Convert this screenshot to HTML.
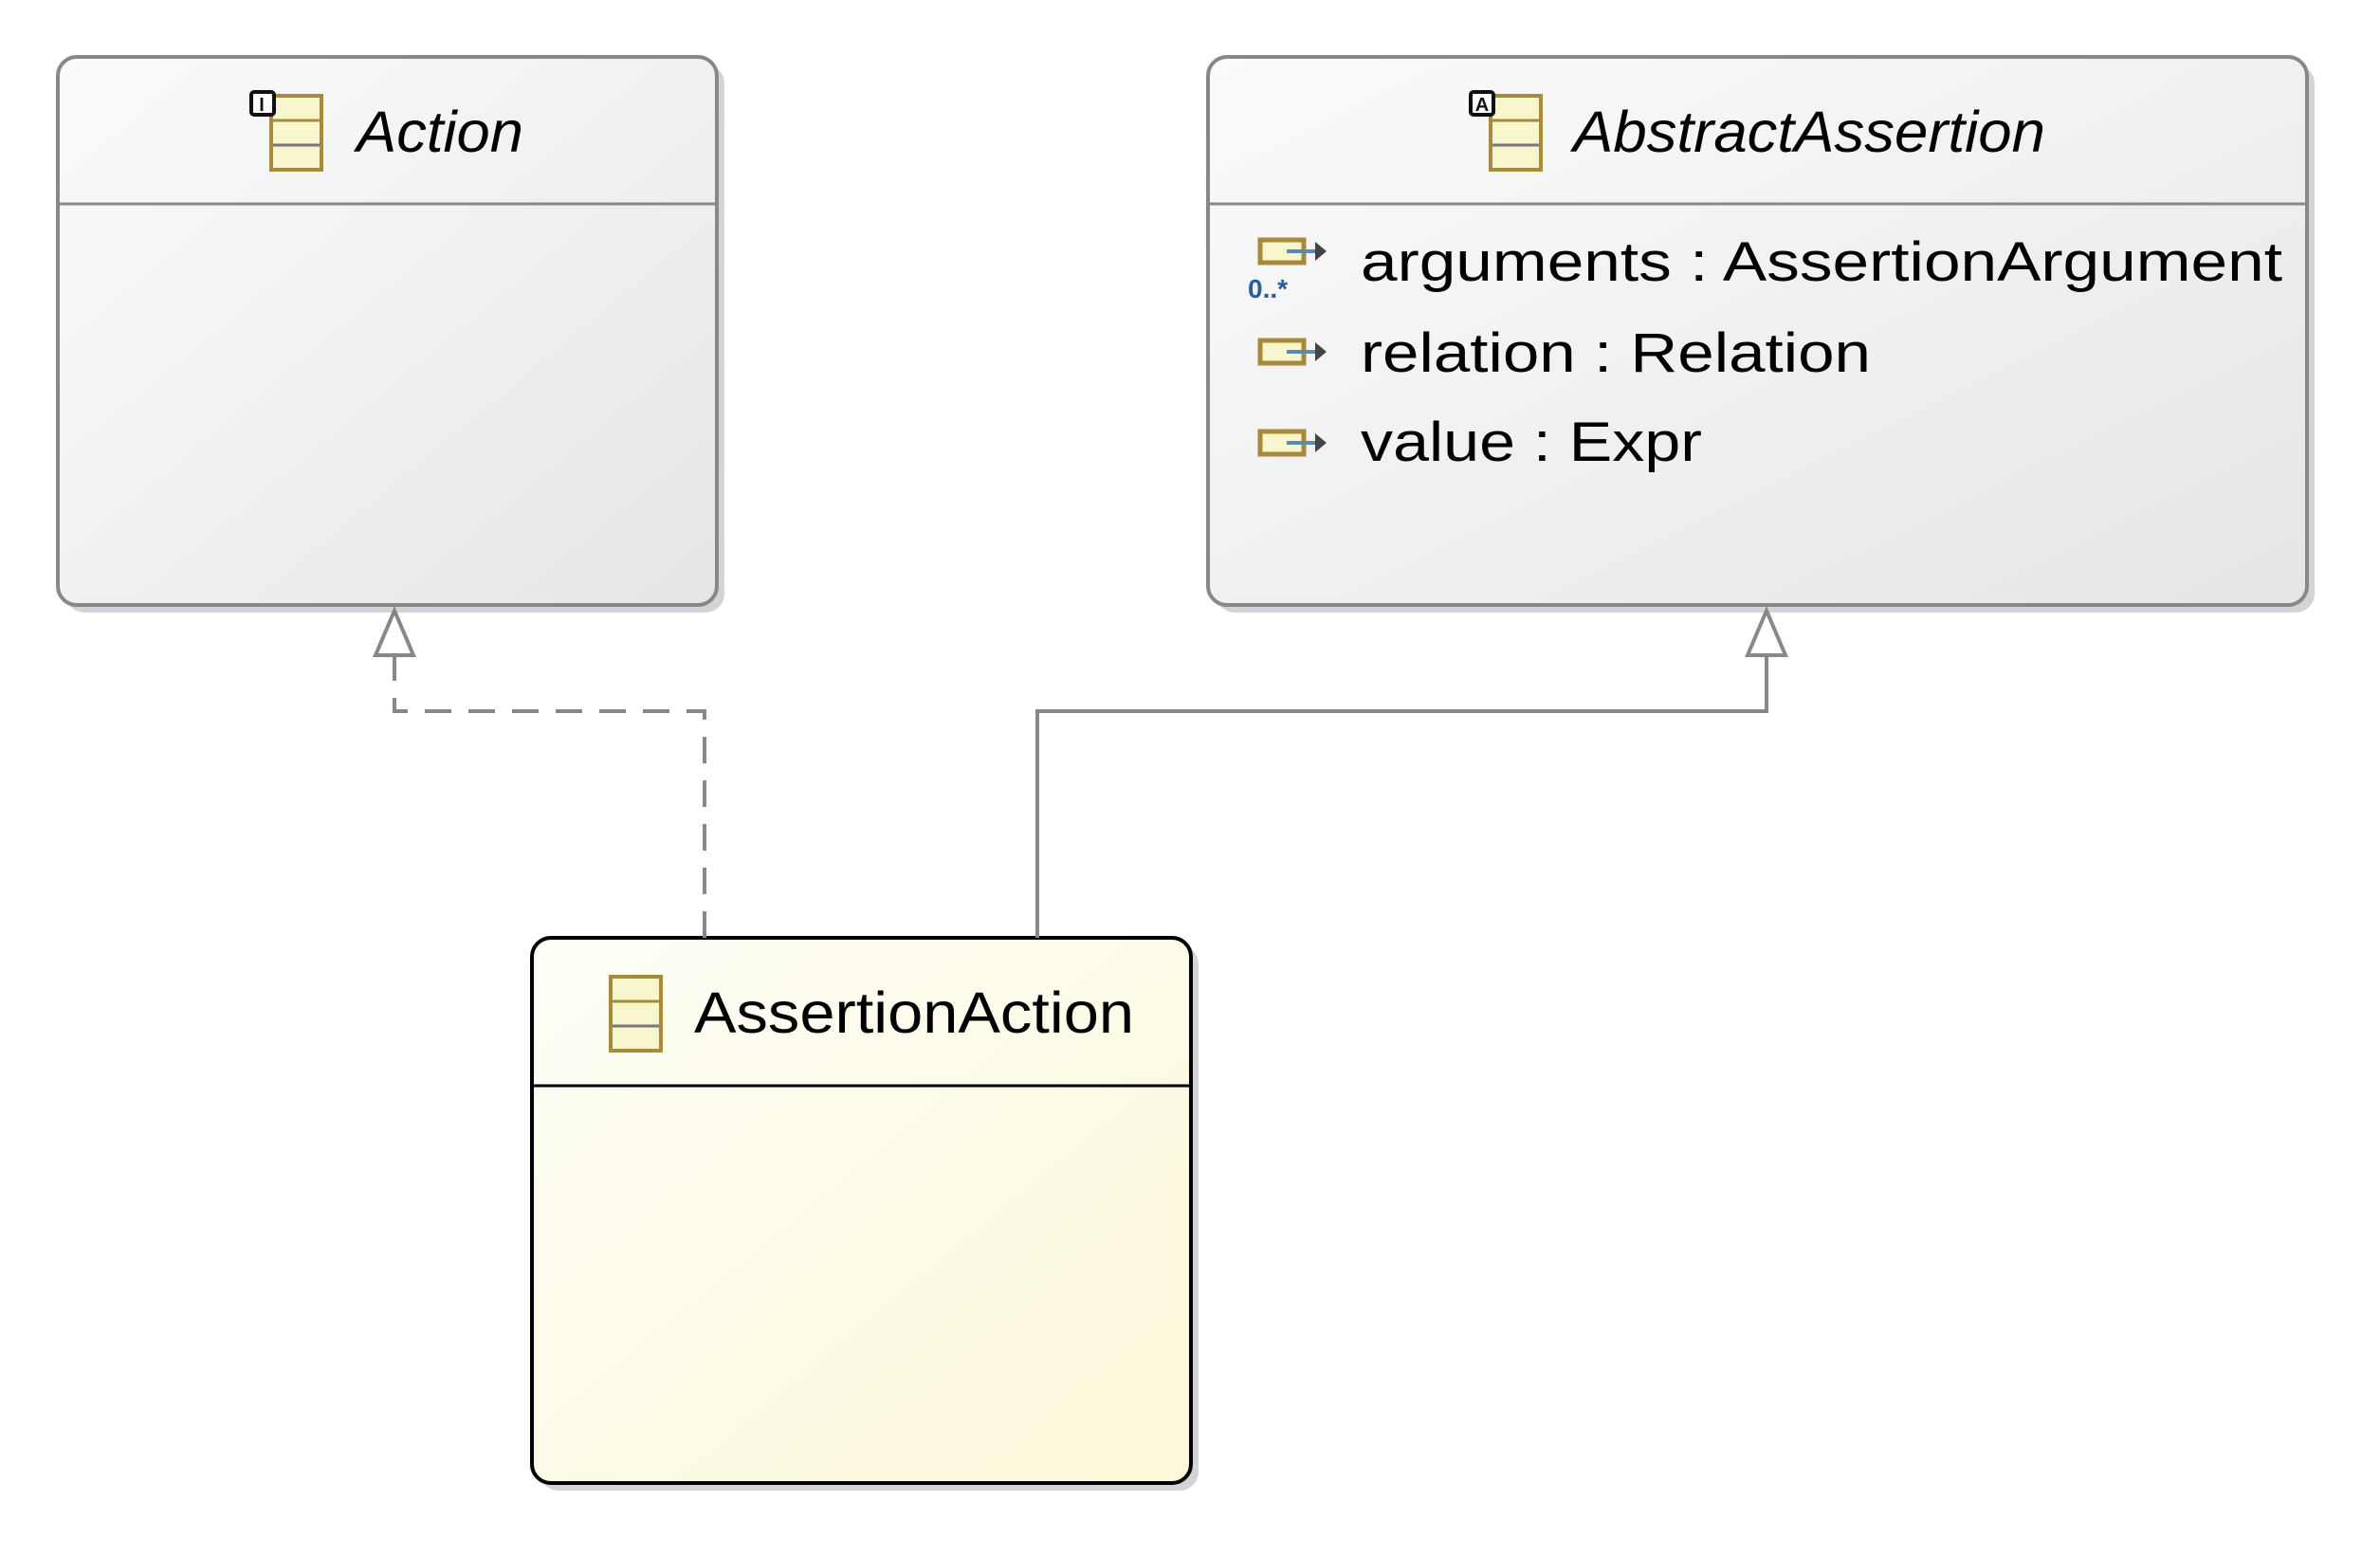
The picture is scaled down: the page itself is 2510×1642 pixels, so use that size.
<!DOCTYPE html>
<html><head><meta charset="utf-8"><style>
html,body{margin:0;padding:0;background:#fff;width:2510px;height:1642px;overflow:hidden}
svg{display:block}
text{font-family:"Liberation Sans",sans-serif}
</style></head><body>
<svg width="2510" height="1642" viewBox="0 0 2510 1642" xmlns="http://www.w3.org/2000/svg">
<defs>
<linearGradient id="g" x1="0" y1="0" x2="1" y2="1"><stop offset="0" stop-color="#fbfbfb"/><stop offset="1" stop-color="#e6e6e6"/></linearGradient>
<linearGradient id="y" x1="0" y1="0" x2="1" y2="1"><stop offset="0" stop-color="#fffef8"/><stop offset="1" stop-color="#fcf8d8"/></linearGradient>
<g id="cls">
<rect x="0" y="0" width="53" height="78" fill="#f8f6cc" stroke="#a88a3c" stroke-width="4"/>
<line x1="2" y1="26" x2="51" y2="26" stroke="#a88a3c" stroke-width="3"/>
<line x1="2" y1="52" x2="51" y2="52" stroke="#777" stroke-width="3"/>
</g>
<g id="attr">
<rect x="0" y="0" width="46" height="24" fill="#f8f6cc" stroke="#a88a3c" stroke-width="5"/>
<line x1="28" y1="12" x2="60" y2="12" stroke="#5a8ab0" stroke-width="4"/>
<polygon points="58,2 70,12 58,22" fill="#444"/>
</g>
</defs>

<!-- shadows -->
<rect x="69" y="68" width="695" height="578" rx="20" fill="#d4d4d8"/>
<rect x="1282" y="68" width="1159" height="578" rx="20" fill="#d4d4d8"/>
<rect x="569" y="997" width="695" height="575" rx="20" fill="#d4d4d8"/>

<!-- Action -->
<rect x="61" y="60" width="695" height="578" rx="20" fill="url(#g)" stroke="#888" stroke-width="4"/>
<line x1="63" y1="215" x2="754" y2="215" stroke="#888" stroke-width="3"/>
<use href="#cls" x="286" y="101"/>
<rect x="265" y="97" width="24" height="24" fill="#fff" stroke="#111" stroke-width="4" rx="3"/>
<text x="276" y="117" font-size="20" font-weight="bold" text-anchor="middle" fill="#111">I</text>
<text x="376" y="160" font-size="61" font-style="italic" textLength="176" lengthAdjust="spacingAndGlyphs">Action</text>

<!-- AbstractAssertion -->
<rect x="1274" y="60" width="1159" height="578" rx="20" fill="url(#g)" stroke="#888" stroke-width="4"/>
<line x1="1276" y1="215" x2="2431" y2="215" stroke="#888" stroke-width="3"/>
<use href="#cls" x="1572" y="101"/>
<rect x="1551" y="97" width="24" height="24" fill="#fff" stroke="#111" stroke-width="4" rx="3"/>
<text x="1563" y="117" font-size="20" font-weight="bold" text-anchor="middle" fill="#111">A</text>
<text x="1659" y="160" font-size="61" font-style="italic" textLength="498" lengthAdjust="spacingAndGlyphs">AbstractAssertion</text>
<use href="#attr" x="1329" y="253"/>
<text x="1316" y="314" font-size="28" font-weight="bold" fill="#2a5aa0">0..*</text>
<use href="#attr" x="1329" y="359"/>
<use href="#attr" x="1329" y="455"/>
<text x="1435" y="296" font-size="58" textLength="972" lengthAdjust="spacingAndGlyphs">arguments : AssertionArgument</text>
<text x="1435" y="392" font-size="58" textLength="538" lengthAdjust="spacingAndGlyphs">relation : Relation</text>
<text x="1435" y="486" font-size="58" textLength="360" lengthAdjust="spacingAndGlyphs">value : Expr</text>

<!-- AssertionAction -->
<rect x="561" y="989" width="695" height="575" rx="20" fill="url(#y)" stroke="#000" stroke-width="4"/>
<line x1="563" y1="1145" x2="1254" y2="1145" stroke="#000" stroke-width="3"/>
<use href="#cls" x="644" y="1030"/>
<text x="732" y="1089" font-size="61" textLength="464" lengthAdjust="spacingAndGlyphs">AssertionAction</text>

<!-- connectors -->
<polyline points="743,989 743,750 416,750 416,691" fill="none" stroke="#888" stroke-width="4" stroke-dasharray="28,18"/>
<polygon points="416,644 396,691 436,691" fill="#fff" stroke="#888" stroke-width="4"/>
<polyline points="1094,989 1094,750 1863,750 1863,691" fill="none" stroke="#888" stroke-width="4"/>
<polygon points="1863,644 1843,691 1883,691" fill="#fff" stroke="#888" stroke-width="4"/>
</svg>
</body></html>
